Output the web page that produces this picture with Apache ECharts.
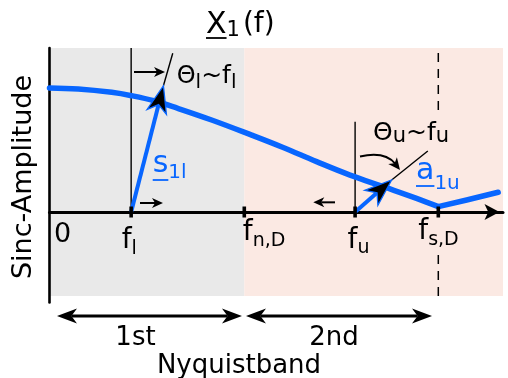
<!DOCTYPE html>
<html>
<head>
<meta charset="utf-8">
<script src="https://cdn.jsdelivr.net/npm/echarts@6/dist/echarts.min.js"></script>
<style>
  html, body { margin: 0; padding: 0; background: #fff; }
  #chart { width: 508px; height: 378px; }
</style>
</head>
<body>
<div id="chart"></div>
<script>
// Frequencies are given in units of the sampling frequency f_s,D.
const tickFreqs = [0.21, 0.501, 0.786, 1.0];
const tickSubs = ['l', 'n,D', 'u', 's,D'];

// Nyquist bands (frequency edges) and their names
const bandEdges = [0, 0.501, 1.1664];
const bandNames = ['1st', '2nd'];

// |X_1(f)| sinc amplitude (main lobe up to f_s,D, then the side lobe)
const sincFreq = [0, 0.074, 0.16, 0.211, 0.271, 0.33, 0.417, 0.52, 0.601, 0.687, 0.773, 0.859, 0.944, 1.0, 1.073, 1.154];
const sincAmp  = [1.0, 0.992, 0.965, 0.938, 0.895, 0.836, 0.742, 0.62, 0.52, 0.406, 0.298, 0.204, 0.110, 0.043, 0.097, 0.159];
const lobeEnd = 13; // index of the zero at f_s,D

// phasors: [f0, a0, f1, a1]
const vectors = [
  [0.21, 0, 0.293, 1.018],   // s_1l
  [0.786, 0, 0.880, 0.258]   // a_1u
];
// thin guide lines: vertical markers and phasor extensions
const guides = [
  [0.21, 0, 0.21, 1.3226],
  [0.293, 1.018, 0.317, 1.28],
  [0.786, 0, 0.786, 0.728],
  [0.880, 0.258, 0.973, 0.492]
];
// dashed marker at f_s,D
const dashed = [
  [1.0, 0.8226, 1.0, 1.3226],
  [1.0, -0.677, 1.0, -0.32]
];
// small direction arrows
const smallArrows = [
  [0.2173, 1.129, 0.2971, 1.129],
  [0.2328, 0.0726, 0.2919, 0.0726],
  [0.7343, 0.078, 0.6785, 0.078]
];
// rotation arrow for theta_u: start, control, end
const turnArrow = [[0.7986, 0.4476, 0.8629, 0.4919, 0.9015, 0.3387]];
// band span arrows
const bandArrows = [
  [0.0193, -0.839, 0.495, -0.839],
  [0.5054, -0.839, 0.9838, -0.839]
];

const Y_MIN = -0.7298, Y_MAX = 1.3226, BAND_BOTTOM = -0.677;
const BLUE = '#0866ff';
const FONT = 'DejaVu Sans';

const chart = echarts.init(document.getElementById('chart'), null, { renderer: 'canvas' });

function headPoints(tip, u, len, wid, notch) {
  const nx = -u[1], ny = u[0];
  const bx = tip[0] - u[0] * len, by = tip[1] - u[1] * len;
  return [
    [tip[0], tip[1]],
    [bx + nx * wid / 2, by + ny * wid / 2],
    [tip[0] - u[0] * len * notch, tip[1] - u[1] * len * notch],
    [bx - nx * wid / 2, by - ny * wid / 2]
  ];
}

function arrowSeries(data, opt) {
  return {
    type: 'custom', data, z: opt.z, silent: true, clip: false,
    renderItem(params, api) {
      const p0 = api.coord([api.value(0), api.value(1)]);
      const p1 = api.coord([api.value(2), api.value(3)]);
      const dx = p1[0] - p0[0], dy = p1[1] - p0[1], d = Math.hypot(dx, dy);
      const u = [dx / d, dy / d];
      let a = p0, b = p1;
      const children = [];
      if (opt.head) {
        const back = opt.head[0] * opt.head[2];
        b = [p1[0] - u[0] * back, p1[1] - u[1] * back];
        if (opt.both) a = [p0[0] + u[0] * back, p0[1] + u[1] * back];
      }
      children.push({
        type: 'line',
        shape: { x1: a[0], y1: a[1], x2: b[0], y2: b[1] },
        style: { stroke: opt.color, lineWidth: opt.width, lineDash: opt.dash || null, lineCap: 'butt' }
      });
      if (opt.head) {
        const hs = { fill: opt.headFill || opt.color, stroke: opt.headStroke || null, lineWidth: opt.headStroke ? 1.3 : 0, lineJoin: 'miter' };
        children.push({ type: 'polygon', shape: { points: headPoints(p1, u, opt.head[0], opt.head[1], opt.head[2]) }, style: hs });
        if (opt.both) {
          children.push({ type: 'polygon', shape: { points: headPoints(p0, [-u[0], -u[1]], opt.head[0], opt.head[1], opt.head[2]) }, style: hs });
        }
      }
      return { type: 'group', children };
    }
  };
}

const sincPoints = sincFreq.map((f, i) => [f, sincAmp[i]]);
const curveStyle = { color: BLUE, width: 5.5, cap: 'round', join: 'round' };

const series = [
  // Nyquist band backgrounds
  {
    type: 'custom', z: 1, silent: true,
    data: bandNames.map((n, i) => [bandEdges[i], bandEdges[i + 1]]),
    renderItem(params, api) {
      const p0 = api.coord([api.value(0), Y_MAX]);
      const p1 = api.coord([api.value(1), BAND_BOTTOM]);
      return { type: 'rect', shape: { x: p0[0], y: p0[1], width: p1[0] - p0[0], height: p1[1] - p0[1] },
               style: { fill: params.dataIndex === 0 ? '#e9e9e9' : '#fbe9e3' } };
    }
  },
  arrowSeries(dashed, { z: 2, color: '#000', width: 1.5, dash: [9, 7] }),
  arrowSeries(guides, { z: 2, color: '#000', width: 1.4 }),
  {
    type: 'line', z: 4, silent: true, showSymbol: false, smooth: 0.4,
    data: sincPoints.slice(0, lobeEnd + 1), lineStyle: curveStyle
  },
  {
    type: 'line', z: 4, silent: true, showSymbol: false, smooth: false,
    data: sincPoints.slice(lobeEnd), lineStyle: curveStyle
  },
  arrowSeries(vectors, { z: 5, color: BLUE, width: 4, head: [27, 20, 0.72], headFill: '#000', headStroke: BLUE }),
  arrowSeries(smallArrows, { z: 5, color: '#000', width: 2, head: [11, 10, 0.72] }),
  arrowSeries(bandArrows, { z: 5, color: '#000', width: 3, head: [20, 15, 0.72], both: true }),
  {
    type: 'custom', z: 5, silent: true, clip: false,
    data: turnArrow,
    renderItem(params, api) {
      const p0 = api.coord([api.value(0), api.value(1)]);
      const c = api.coord([api.value(2), api.value(3)]);
      const p2 = api.coord([api.value(4), api.value(5)]);
      const dx = p2[0] - c[0], dy = p2[1] - c[1], d = Math.hypot(dx, dy);
      const u = [dx / d, dy / d];
      const end = [p2[0] - u[0] * 8, p2[1] - u[1] * 8];
      return { type: 'group', children: [
        { type: 'bezierCurve', shape: { x1: p0[0], y1: p0[1], cpx1: c[0], cpy1: c[1], x2: end[0], y2: end[1] },
          style: { stroke: '#000', lineWidth: 2, fill: null } },
        { type: 'polygon', shape: { points: headPoints(p2, u, 12, 11, 0.72) }, style: { fill: '#000' } }
      ] };
    }
  },
  // tick marks on the frequency axis
  {
    type: 'custom', z: 6, silent: true,
    data: tickFreqs.map(f => [f, 0]),
    renderItem(params, api) {
      const p = api.coord([api.value(0), api.value(1)]);
      return { type: 'rect', shape: { x: p[0] - 1.8, y: p[1] - 5.5, width: 3.6, height: 11 }, style: { fill: '#000' } };
    }
  }
];

chart.setOption({
  animation: false,
  grid: { left: 49.5, right: 5, top: 48, bottom: 75.5, containLabel: false, outerBoundsMode: 'none' },
  xAxis: {
    type: 'value', min: 0, max: bandEdges[2], z: 3,
    axisLine: { show: true, onZero: true, lineStyle: { color: '#000', width: 3 },
                symbol: ['none', 'arrow'], symbolSize: [12, 15], symbolOffset: [0, -3.5] },
    axisTick: { show: false }, axisLabel: { show: false }, splitLine: { show: false }
  },
  yAxis: {
    type: 'value', min: Y_MIN, max: Y_MAX, z: 3,
    axisLine: { show: true, onZero: true, lineStyle: { color: '#000', width: 2.6 } },
    axisTick: { show: false }, axisLabel: { show: false }, splitLine: { show: false }
  },
  series
});

// text helpers: a run of text parts laid out left to right
const measureCtx = document.createElement('canvas').getContext('2d');
function textRun(x, y, parts, color) {
  const out = [];
  let cx = x;
  parts.forEach(p => {
    cx += p.gap || 0;
    out.push({
      type: 'text', x: cx, y: y + (p.dy || 0), z: 10, silent: true,
      style: { text: p.t, fontFamily: FONT, fontSize: p.s, fill: color || '#000', align: 'left', verticalAlign: 'middle' }
    });
    measureCtx.font = p.s + 'px "' + FONT + '"';
    const w = measureCtx.measureText(p.t).width;
    if (p.u) out.push({ type: 'rect', z: 10, silent: true, shape: { x: cx, y: p.u - 0.9, width: w, height: 1.8 }, style: { fill: color || '#000' } });
    cx += w;
  });
  return out;
}
function centered(x, y, t, s) {
  return { type: 'text', x, y, z: 10, silent: true,
           style: { text: t, fontFamily: FONT, fontSize: s, fill: '#000', align: 'center', verticalAlign: 'middle' } };
}

const px = f => chart.convertToPixel({ gridIndex: 0 }, [f, 0])[0];
const tickLayout = [
  { dx: -9.5, y: 240.5, dy: 9 },
  { dx: -1.5, y: 233, dy: 8 },
  { dx: -7.5, y: 240.5, dy: 7.5 },
  { dx: -20, y: 232, dy: 8 }
];

let elements = [];
// title
elements = elements.concat(textRun(206, 25, [
  { t: 'X', s: 30, u: 38 }, { t: '1', s: 21, dy: 6 }, { t: '(f)', s: 28, gap: 3 }
]));
// axis name
elements.push({ type: 'text', x: 24, y: 177, rotation: Math.PI / 2, z: 10, silent: true,
  style: { text: 'Sinc-Amplitude', fontFamily: FONT, fontSize: 27, fill: '#000', align: 'center', verticalAlign: 'middle' } });
// tick labels
elements.push(centered(px(0) + 13, 235, '0', 27));
tickFreqs.forEach((f, i) => {
  const L = tickLayout[i];
  elements = elements.concat(textRun(px(f) + L.dx, L.y, [{ t: 'f', s: 28 }, { t: tickSubs[i], s: 19, dy: L.dy }]));
});
// phase annotations
elements = elements.concat(textRun(176.7, 76.7, [
  { t: 'Θ', s: 24 }, { t: 'l', s: 20, dy: 6 }, { t: '~', s: 25 }, { t: 'f', s: 25 }, { t: 'l', s: 20, dy: 6 }
]));
elements = elements.concat(textRun(373, 133.3, [
  { t: 'Θ', s: 25 }, { t: 'u', s: 21, dy: 3.5 }, { t: '~', s: 25 }, { t: 'f', s: 25 }, { t: 'u', s: 21, dy: 3.5 }
]));
// phasor names
elements = elements.concat(textRun(152.7, 164.6, [{ t: 's', s: 30, u: 180 }, { t: '1l', s: 20, dy: 8.4 }], BLUE));
elements = elements.concat(textRun(416, 171.3, [{ t: 'a', s: 30, u: 186 }, { t: '1u', s: 20, dy: 12 }], BLUE));
// band names
elements.push(centered(135.5, 338, bandNames[0], 26));
elements.push(centered(334, 338, bandNames[1], 26));
elements.push(centered(239, 366.4, 'Nyquistband', 26));

chart.setOption({ graphic: { elements } });
</script>
</body>
</html>
